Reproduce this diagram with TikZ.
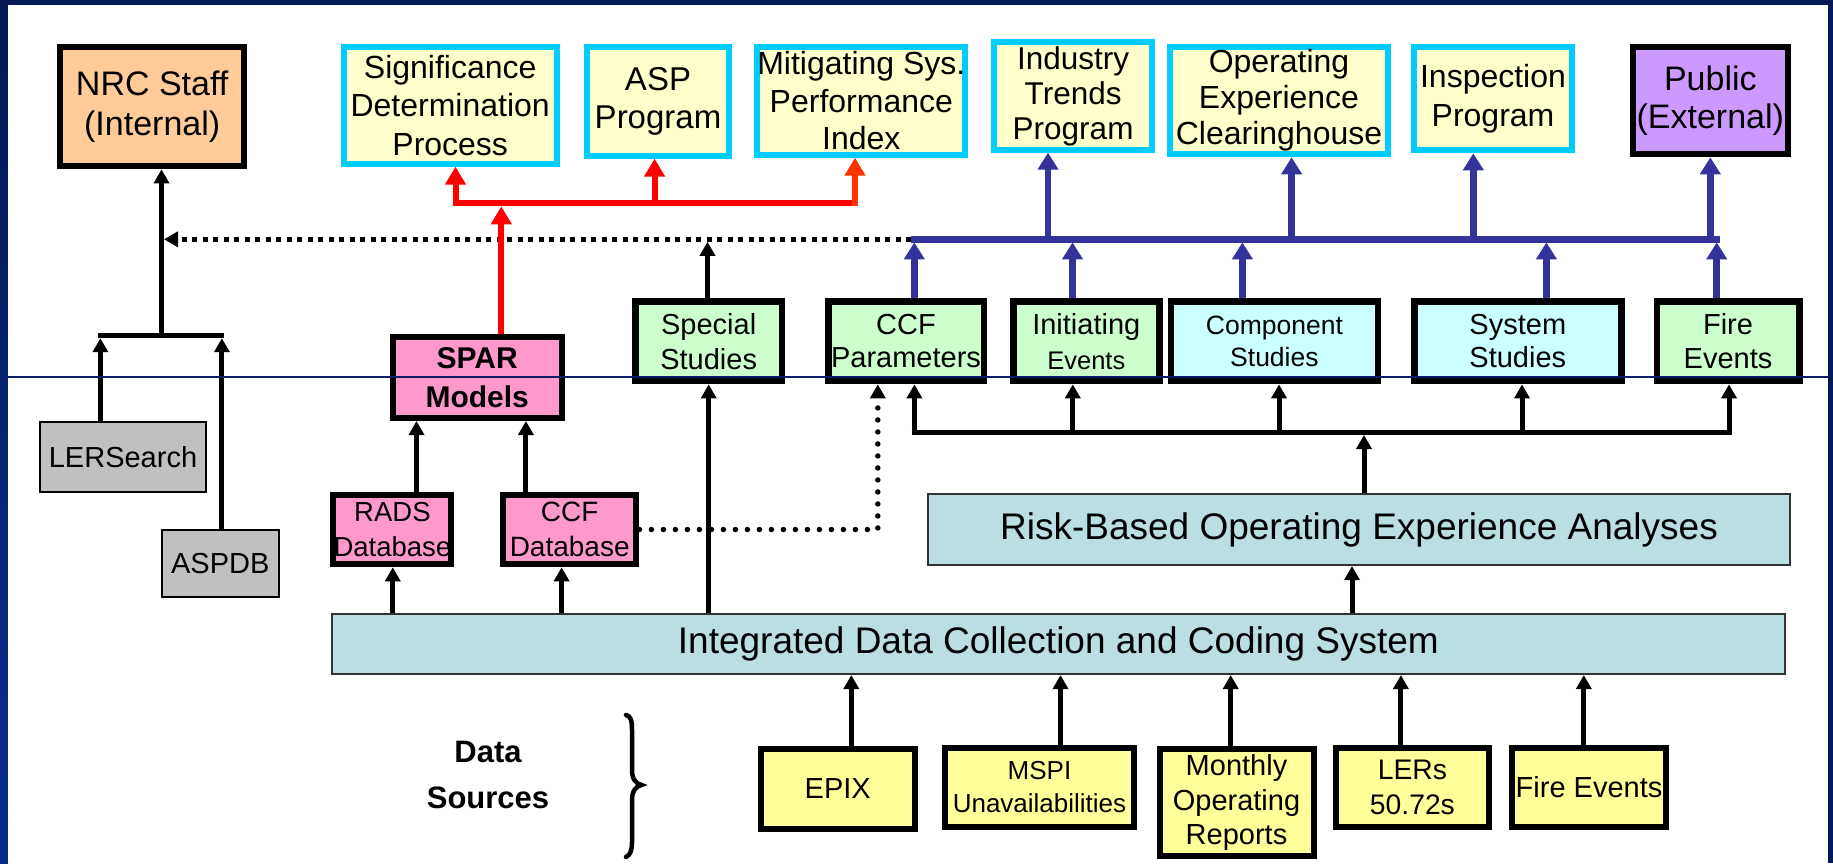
\documentclass[tikz,border=0pt]{standalone}
\usepackage{fontspec}
\setmainfont{Liberation Sans}
\usetikzlibrary{arrows.meta,calc}
\newcommand\fsz[2]{\fontsize{#1}{#2}\selectfont}
\definecolor{framenavy}{HTML}{031A55}
\definecolor{frameblue}{HTML}{0B2C8C}
\definecolor{peach}{HTML}{FFCC99}
\definecolor{lilac}{HTML}{CC99FF}
\definecolor{paleyellow}{HTML}{FFFFCC}
\definecolor{skyedge}{HTML}{00CCFF}
\definecolor{mint}{HTML}{CCFFCC}
\definecolor{icecyan}{HTML}{CCFFFF}
\definecolor{pinkfill}{HTML}{FF99CC}
\definecolor{greyfill}{HTML}{C0C0C0}
\definecolor{bandfill}{HTML}{B9DFE2}
\definecolor{bandedge}{HTML}{333333}
\definecolor{srcyellow}{HTML}{FFFF99}
\definecolor{flowblue}{HTML}{333399}
\definecolor{flowred}{HTML}{FF0000}
\definecolor{floworange}{HTML}{FF3300}
\definecolor{ruleblue}{HTML}{0A1E66}
\tikzset{
  box/.style={draw, inner sep=0pt, align=center},
  audience/.style={box, draw=black, line width=6pt},
  program/.style={box, draw=skyedge, fill=paleyellow, line width=6pt},
  study/.style={box, draw=black, line width=6.5pt},
  model/.style={box, draw=black, fill=pinkfill, line width=6pt},
  lookup/.style={box, draw=black, fill=greyfill, line width=2pt},
  band/.style={box, draw=bandedge, fill=bandfill, line width=2pt},
  source/.style={box, draw=black, fill=srcyellow, line width=6pt},
  blkline/.style={draw=black, line width=5pt},
  blkarr/.style={blkline, -{Triangle[length=14pt,width=15pt]}},
  bluline/.style={draw=flowblue, line width=6.5pt},
  bluarr/.style={bluline, -{Triangle[length=17pt,width=20pt]}},
  redline/.style={draw=flowred, line width=6pt},
  redarr/.style={redline, -{Triangle[length=18pt,width=20pt]}},
  squaredots/.style={draw=black, line width=5pt, dash pattern=on 5pt off 5.5pt},
  rounddots/.style={draw=black, line width=5.5pt, line cap=round, dash pattern=on 0pt off 12pt},
}
\begin{document}
\begin{tikzpicture}[x=1pt,y=-1pt]
\useasboundingbox (0,0) rectangle (1833,863);
% slide frame
\fill[framenavy] (0,0) rectangle (1833,863);
\shade[top color=framenavy, bottom color=frameblue] (0,0) rectangle (8,863);
\fill[white] (8,5) rectangle (1828,863);

% consumers of the results
\node[audience, fill=peach, minimum width=183.8, minimum height=119.3, font=\fsz{34}{40}] (nrc) at (152.2,106.7) {NRC Staff\\(Internal)};
\node[program, minimum width=212.7, minimum height=116.7, font=\fsz{32}{38.3}] (sdp) at (450.2,105.3) {Significance\\Determination\\Process};
\node[program, minimum width=141.3, minimum height=108.7, font=\fsz{33}{38.4}] (asp) at (658,101.3) {ASP\\Program};
\node[program, minimum width=208.3, minimum height=107.7, font=\fsz{32}{37.5}] (msp) at (861.3,100.8) {Mitigating Sys.\\Performance\\Index};
\node[program, minimum width=157.3, minimum height=107.4, font=\fsz{31.5}{35}] (itp) at (1073.1,96) {Industry\\Trends\\Program};
\node[program, minimum width=217.1, minimum height=107.3, font=\fsz{32}{36}] (oec) at (1279,100.7) {Operating\\Experience\\Clearinghouse};
\node[program, minimum width=158.7, minimum height=103.3, font=\fsz{32}{38.3}] (insp) at (1493,98.7) {Inspection\\Program};
\node[audience, fill=lilac, minimum width=154.6, minimum height=107.3, font=\fsz{34}{38.3}] (pub) at (1710.3,100.7) {Public\\(External)};

% studies
\node[study, fill=mint, minimum width=146.2, minimum height=79.8, font=\fsz{29}{35}] (spec) at (708.7,341.2) {Special\\Studies};
\node[study, fill=mint, minimum width=155.5, minimum height=79.8, font=\fsz{29}{33.3}] (ccfp) at (906,341.2) {CCF\\Parameters};
\node[study, fill=mint, minimum width=146, minimum height=79.8, font=\fsz{29}{35}] (ie) at (1086.3,341.2) {Initiating\\{\fsz{25.5}{35}Events}};
\node[study, fill=icecyan, minimum width=206.7, minimum height=79.8, font=\fsz{26.5}{32}] (comp) at (1274.4,341.2) {Component\\Studies};
\node[study, fill=icecyan, minimum width=207.1, minimum height=79.8, font=\fsz{29}{33.3}] (sys) at (1517.8,341.2) {System\\Studies};
\node[study, fill=mint, minimum width=142.5, minimum height=79.8, font=\fsz{29}{33.3}] (fire) at (1728,341.2) {Fire\\Events};

% databases and models
\node[lookup, minimum width=165.4, minimum height=70.6, font=\fsz{29}{35}] (lers) at (123,457) {LERSearch};
\node[lookup, minimum width=117.2, minimum height=67.3, font=\fsz{29}{35}] (aspdb) at (220.3,563.7) {ASPDB};
\node[model, minimum width=169, minimum height=81, font=\bfseries\fsz{30}{39}] (spar) at (477.2,377.5) {SPAR\\Models};
\node[model, minimum width=118.1, minimum height=69.6, font=\fsz{27.5}{35}] (rads) at (392.4,529.5) {RADS\\Database};
\node[model, minimum width=133.3, minimum height=69.6, font=\fsz{28}{35}] (ccfdb) at (569.7,529.5) {CCF\\Database};
\node[band, minimum width=862.2, minimum height=70.7, font=\fsz{37}{42}] (rboea) at (1359,529.7) {Risk-Based Operating Experience Analyses};
\node[band, minimum width=1452.4, minimum height=59.7, font=\fsz{37}{42}] (idccs) at (1058.4,644.2) {Integrated Data Collection and Coding System};

% data sources
\node[font=\bfseries\fsz{31}{46.6}, align=center] (dsrc) at (488,775) {Data\\Sources};
\node[source, minimum width=154, minimum height=80.6, font=\fsz{29}{35}] (epix) at (837.7,789) {EPIX};
\node[source, minimum width=189, minimum height=79, font=\fsz{26}{33}] (mspi) at (1039.5,787.5) {MSPI\\Unavailabilities};
\node[source, minimum width=154, minimum height=107.3, font=\fsz{29}{34.7}] (mor) at (1236.5,802.7) {Monthly\\Operating\\Reports};
\node[source, minimum width=153.2, minimum height=79, font=\fsz{28.3}{35}] (lersrc) at (1412.4,787.5) {LERs\\50.72s};
\node[source, minimum width=154, minimum height=79, font=\fsz{29}{35}] (fesrc) at (1589,787.5) {Fire Events};

% brace grouping the data sources
\draw[line width=4.5pt, line cap=round]
  (626,715) .. controls (631,716) and (632,721) .. (632,730) -- (632,770)
  .. controls (632,779) and (636,784) .. (641.5,785)
  .. controls (636,786) and (632,791) .. (632,800) -- (632,842)
  .. controls (632,851) and (630,855) .. (626,857);

% junction points
\coordinate (treeL) at (100.4,338.2);
\coordinate (treeR) at (221.9,338.2);
\coordinate (treeM) at (161.5,333.5);
\coordinate (dotEnd) at (164,239.3);
\coordinate (dotStart) at (911,239.3);
\coordinate (dotUnder) at (707.5,241.8);
\coordinate (redBusL) at (455.5,203.3);
\coordinate (redBusR) at (858,203.3);
\coordinate (redUnder) at (501.3,206.3);
\coordinate (bluBusL) at (911,239.3);
\coordinate (bluBusR) at (1719.9,239.3);
\coordinate (bluUnder) at (0,242.4);
\coordinate (blkBusL) at (911.9,432.7);
\coordinate (blkBusR) at (1731.5,432.7);
\coordinate (blkBusY) at (0,432.7);
\coordinate (blkUnder) at (1364,435);
\coordinate (ccfTurn) at (877.8,529.5);

% staff feedback tree
\draw[blkline] (98,335.7) -- (224.4,335.7);
\draw[blkarr] (lers.north -| treeL) -- (treeL);
\draw[blkarr] (aspdb.north -| treeR) -- (treeR);
\draw[blkarr] (treeM) -- (treeM |- nrc.south);
\draw[squaredots, -{Triangle[length=14pt,width=15pt]}] (dotStart) -- (dotEnd);
\draw[blkarr] (spec.north -| dotUnder) -- (dotUnder);

% SPAR results
\draw[redarr] (spar.north -| redUnder) -- (redUnder);
\draw[redarr] (redBusR) -- (redBusL) -- (sdp.south -| redBusL);
\draw[redarr] (654.6,203.3) -- (asp.south -| 654.6,0);
\draw[redarr, draw=floworange] (855,206.3) -- (msp.south -| 855,0);

% operating experience results
\draw[bluline] (bluBusL) -- (bluBusR);
\draw[bluarr] (1048,239.3) -- (itp.south -| 1048,0);
\draw[bluarr] (1291.6,239.3) -- (oec.south -| 1291.6,0);
\draw[bluarr] (1473.3,239.3) -- (insp.south -| 1473.3,0);
\draw[bluarr] (1710.3,239.3) -- (pub.south -| 1710.3,0);
\draw[bluarr] (ccfp.north -| 914.3,0) -- (bluUnder -| 914.3,0);
\draw[bluarr] (ie.north -| 1072.5,0) -- (bluUnder -| 1072.5,0);
\draw[bluarr] (comp.north -| 1242.4,0) -- (bluUnder -| 1242.4,0);
\draw[bluarr] (sys.north -| 1546.4,0) -- (bluUnder -| 1546.4,0);
\draw[bluarr] (fire.north -| 1716.7,0) -- (bluUnder -| 1716.7,0);

% analyses feeding the studies
\draw[blkline] (blkBusL) -- (blkBusR);
\draw[blkarr] (blkBusY -| 914.4,0) -- (ccfp.south -| 914.4,0);
\draw[blkarr] (blkBusY -| 1072.8,0) -- (ie.south -| 1072.8,0);
\draw[blkarr] (blkBusY -| 1279,0) -- (comp.south -| 1279,0);
\draw[blkarr] (blkBusY -| 1522,0) -- (sys.south -| 1522,0);
\draw[blkarr] (blkBusY -| 1729,0) -- (fire.south -| 1729,0);
\draw[blkarr] (rboea.north -| blkUnder) -- (blkUnder);
\draw[rounddots] (ccfdb.east) -- (ccfTurn) -- (877.8,398);
\draw[blkarr] (877.8,398) -- (ccfp.south -| ccfTurn);

% models fed by the databases
\draw[blkarr] (rads.north -| 416.5,0) -- (spar.south -| 416.5,0);
\draw[blkarr] (ccfdb.north -| 525.9,0) -- (spar.south -| 525.9,0);
\draw[blkarr] (idccs.north -| 392.8,0) -- (rads.south -| 392.8,0);
\draw[blkarr] (idccs.north -| 561.6,0) -- (ccfdb.south -| 561.6,0);
\draw[blkarr] (idccs.north -| spec.south) -- (spec.south);
\draw[blkarr] (idccs.north -| 1352,0) -- (rboea.south -| 1352,0);

% raw data into the coding system
\draw[blkarr] (epix.north -| 851.3,0) -- (idccs.south -| 851.3,0);
\draw[blkarr] (mspi.north -| 1060.5,0) -- (idccs.south -| 1060.5,0);
\draw[blkarr] (mor.north -| 1230.7,0) -- (idccs.south -| 1230.7,0);
\draw[blkarr] (lersrc.north -| 1400.9,0) -- (idccs.south -| 1400.9,0);
\draw[blkarr] (fesrc.north -| 1583.8,0) -- (idccs.south -| 1583.8,0);

% thin guide rule across the slide
\draw[ruleblue, line width=1.5pt] (8,377) -- (1828,377);
\end{tikzpicture}
\end{document}
